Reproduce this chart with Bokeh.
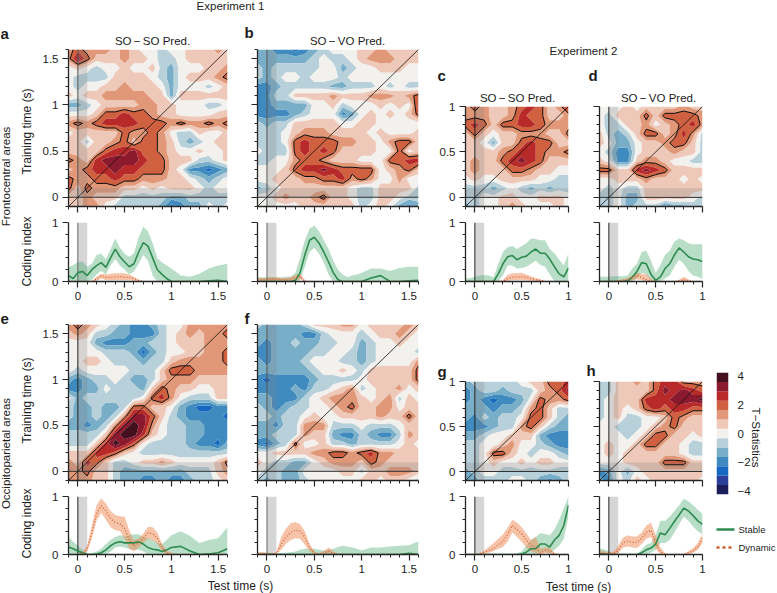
from math import pi
import numpy as np
from bokeh.plotting import figure
from bokeh.layouts import row, column
from bokeh.models import FixedTicker
from bokeh.core.properties import value
from bokeh.embed import file_html
from bokeh.resources import INLINE

# ---------- data: colour-band index of the T statistic (1 index = T_STEP), rows top to bottom ----------
T_STEP = 0.65
GRID_A = [
[2,3,2,2,2,1,2,1,0,0,-1,0,0,1,1,1,2,1],
[2,5,3,1,1,1,2,1,1,0,-1,-1,0,1,1,1,1,1],
[0,1,0,-1,0,0,1,0,0,1,-1,-2,0,0,0,1,1,2],
[0,-1,-1,-1,-1,1,1,1,1,0,-1,-2,0,1,1,1,2,3],
[0,-1,0,0,1,1,2,1,1,1,0,-2,0,0,0,-1,0,1],
[1,0,1,1,2,2,2,2,2,1,1,-2,1,1,1,1,1,1],
[-2,-2,-1,0,1,1,1,1,2,2,1,1,0,0,0,-1,-1,0],
[0,0,0,1,3,3,4,3,3,2,1,1,0,0,0,0,1,1],
[2,3,2,3,4,4,4,4,3,3,3,2,3,2,2,3,2,3],
[0,1,1,1,1,1,3,2,2,3,2,0,-1,-1,1,0,0,1],
[1,1,-1,1,1,2,3,1,3,3,2,1,-1,-2,-1,0,1,1],
[1,1,1,1,3,4,4,5,3,3,2,1,0,0,1,0,0,1],
[3,2,1,4,5,5,5,5,4,3,3,1,1,1,-1,-1,0,1],
[1,2,3,4,4,5,4,4,3,3,3,1,0,-3,-3,-4,-3,-2],
[3,2,2,3,3,4,3,3,2,2,2,1,1,0,-1,-2,-1,0],
[3,1,3,2,2,2,1,1,0,1,0,1,1,1,0,-1,0,0],
[1,1,2,1,1,1,-1,-1,-1,-1,-1,-2,-2,-1,-1,-1,-1,-1],
[1,1,2,2,0,-1,-1,-1,-1,-1,-2,-4,-3,-2,-2,0,-1,0]]
GRID_B = [
[-2,-2,-3,-3,-4,-3,-2,-1,0,0,0,1,1,2,1,1,1,1],
[-2,-2,-2,-2,-2,-2,-1,0,-1,-1,0,1,2,2,2,1,1,1],
[-1,-2,-1,-1,-1,-1,-1,0,0,-2,-1,0,0,1,1,1,0,0],
[-1,-2,-1,0,0,-1,0,0,0,-1,0,0,0,0,0,0,0,0],
[-3,-3,-2,-1,-1,-1,-1,-1,-2,-2,-1,-1,-1,0,-1,0,-1,-1],
[-3,-3,-1,-1,1,1,1,1,2,1,1,1,2,2,2,1,2,3],
[-3,-3,-2,-2,-2,-2,0,0,1,-1,0,0,0,1,0,1,0,4],
[-3,-3,-3,-3,-2,-1,0,0,0,-3,-2,0,1,0,1,0,1,3],
[-1,-2,-1,-1,1,1,1,1,1,0,0,1,1,0,0,0,0,0],
[-1,-1,-1,0,1,2,2,2,1,1,1,1,0,1,0,0,0,1],
[-1,-1,-1,0,3,4,3,3,3,2,2,1,1,0,2,3,3,1],
[0,-1,-1,-1,3,4,3,4,3,1,1,1,1,0,0,3,0,1],
[-1,-1,0,0,2,3,3,2,1,1,1,0,0,0,3,3,4,4],
[0,0,0,1,3,4,4,5,4,3,3,3,3,0,1,2,3,1],
[0,0,1,1,1,2,2,3,3,4,2,3,2,0,0,2,0,0],
[-2,-1,0,1,1,1,1,1,1,1,0,-1,-1,1,1,1,1,-1],
[0,0,1,2,1,1,2,3,1,1,0,-1,-1,1,1,0,-1,-1],
[0,0,0,0,0,1,1,1,1,1,1,-1,0,1,0,-2,-3,-2]]
GRID_E = [
[2,3,2,1,0,-1,-2,-3,-3,-2,-1,0,0,2,2,2,2,2],
[1,2,1,-1,-1,-2,-2,-3,-3,-3,-1,0,1,2,1,2,2,3],
[0,0,0,-2,-3,-3,-3,-2,-2,-1,-1,0,1,1,1,2,2,2],
[0,0,0,0,-1,-1,-1,-2,-4,-2,-1,0,0,1,1,2,2,3],
[0,0,1,1,0,-1,-1,-1,-2,-1,-1,1,2,2,2,2,2,3],
[0,-1,0,0,0,0,0,-1,-1,-1,1,3,3,3,2,2,2,2],
[-2,-3,-2,-1,-1,0,-1,-2,-2,-1,1,2,2,2,1,1,1,1],
[-3,-3,-2,-2,0,-1,-1,-1,-2,1,3,2,1,1,0,0,1,1],
[0,-2,-1,-1,-1,-1,-1,-1,0,3,4,2,0,-1,-1,-1,1,1],
[-1,-2,-2,-1,-2,-2,-1,3,3,1,1,0,-2,-3,-4,-4,-3,-3],
[-1,-2,-2,-1,-2,-1,2,5,5,3,1,-1,-2,-3,-3,-3,-3,-4],
[-2,-2,-3,-2,-1,2,5,6,5,2,0,-1,-1,-2,-2,-3,-3,-3],
[-1,-1,-1,-1,1,5,6,6,4,1,0,-1,-1,-2,-2,-3,-3,-3],
[-1,-1,-1,1,4,6,5,3,0,-1,-1,-1,-1,-2,-3,-3,-4,-2],
[1,1,1,4,4,3,1,0,-1,-1,-1,-1,-1,-1,-1,-1,-1,-1],
[2,1,4,3,1,-1,-1,0,1,1,2,1,0,0,0,0,1,3],
[2,2,3,1,1,-1,-2,-2,-2,-2,-2,-2,-2,-1,-1,-1,1,2],
[2,2,2,1,1,-1,-2,-2,-3,-3,-2,-3,-3,-2,-1,-1,0,1]]
GRID_F = [
[-1,-2,-2,-2,-2,-1,1,1,1,2,2,0,1,1,1,1,2,1],
[-2,-2,-2,-2,-2,-3,-3,-1,0,0,0,-1,0,1,1,2,1,0],
[-2,-3,-2,-2,-1,-2,-2,-1,-1,0,0,-2,-1,0,0,1,0,0],
[-3,-3,-2,-2,-2,-2,-1,-1,0,0,-1,-2,-1,0,0,0,0,-1],
[-2,-3,-2,-2,-2,-1,0,0,0,-1,-1,-2,-1,0,0,0,0,2],
[-2,-2,-2,-2,-2,-2,-1,0,0,1,0,-1,1,1,1,1,1,3],
[-3,-4,-3,-3,-3,-3,-2,-1,-1,-1,-1,0,1,1,1,1,1,3],
[-3,-3,-3,-3,-2,-3,-1,-1,0,1,2,-1,0,1,1,2,0,1],
[-2,-2,-3,-3,-3,-1,0,1,2,2,2,1,0,1,2,-1,1,0],
[-1,-2,-3,-2,-1,-1,0,0,1,2,3,1,1,2,2,0,1,1],
[-1,-1,-2,-1,-1,0,1,0,0,1,1,1,1,2,1,1,3,1],
[-2,-2,-3,-1,-1,2,2,2,-1,-1,-1,0,-1,-1,-1,0,1,1],
[-2,-2,-1,-1,-1,2,1,1,-2,-3,-3,-1,-2,-3,-3,-1,2,1],
[-3,-4,-2,-1,3,0,0,1,-1,-1,-2,-1,-1,-1,-1,0,1,0],
[0,0,1,1,1,1,2,2,3,3,2,3,4,2,2,1,1,1],
[1,0,-1,-1,-2,-2,0,1,2,2,2,1,3,2,1,1,1,1],
[0,-1,-1,-2,-2,0,0,0,0,1,1,-1,1,1,2,2,2,1],
[-1,-2,-1,-2,-2,-1,0,0,0,0,0,1,1,0,1,1,0,-1]]
GRID_C = [
[2,3,2,1,1,2,3,4,3,1,2,4],
[2,2,2,1,1,2,4,3,3,1,1,2],
[3,4,3,1,3,3,4,4,3,2,2,2],
[1,3,1,0,1,1,2,2,2,1,1,3],
[1,1,0,-2,1,1,3,4,3,3,1,1],
[1,1,1,1,2,3,4,4,3,2,2,3],
[1,2,1,1,3,4,5,4,3,1,1,1],
[1,2,1,1,1,3,3,2,1,1,0,0],
[0,1,0,0,1,1,1,1,0,0,-1,-1],
[-1,-1,-1,-2,-1,0,-1,-2,-1,-2,-1,-1],
[-1,-1,0,0,1,1,0,0,1,1,1,0],
[-2,-1,0,0,1,2,1,0,0,0,1,0]]
GRID_D = [
[0,0,0,1,0,1,1,1,1,2,1,1],
[0,-1,1,1,1,3,1,3,3,3,3,2],
[0,-1,-1,1,1,2,0,1,2,3,4,2],
[1,-1,-2,-1,1,3,3,1,2,4,2,-1],
[1,0,-2,-2,0,1,1,2,3,3,1,-1],
[0,-1,-3,-3,0,1,1,1,2,1,1,-1],
[1,0,-3,-3,1,2,2,1,0,0,-1,-1],
[3,3,1,1,4,5,4,3,1,1,1,1],
[0,0,1,1,1,2,1,1,1,0,1,0],
[0,-1,0,-1,-1,1,1,1,1,1,1,1],
[-1,-1,0,-2,-2,1,1,1,1,1,0,-1],
[-1,-1,0,-2,-1,-1,-1,-3,-2,-2,-1,-1]]
GRID_G = [
[-2,-1,-1,-1,-1,-1,0,1,1,3,3,4],
[-3,-2,-1,-1,-2,-1,-1,-1,1,2,3,5],
[-3,-2,-3,-4,-3,-3,-2,0,3,2,2,3],
[-2,-2,-2,-3,-2,-2,-1,2,3,1,-1,-1],
[-2,-3,-1,-2,-1,-1,0,3,3,1,-1,-2],
[-3,-3,-3,-2,-1,-1,2,3,1,-1,-2,-2],
[-2,-2,-1,0,0,1,1,1,-2,-3,-3,-3],
[-1,-1,0,0,1,2,0,0,-1,-2,-3,-3],
[-1,-1,0,3,3,1,0,-1,0,0,-1,-2],
[-1,-1,0,1,0,0,1,0,1,1,0,0],
[-2,-1,0,0,-1,-1,-1,-1,-1,-1,-1,-1],
[-2,-2,-1,-1,-1,0,0,-1,-2,-3,-2,-1]]
GRID_H = [
[-1,-1,1,1,2,1,3,4,4,2,2,2],
[-1,-1,1,1,1,1,3,5,4,5,4,3],
[-1,0,1,1,1,4,4,4,5,5,5,6],
[-1,0,1,0,1,3,4,3,4,4,3,3],
[-1,0,1,-1,-1,0,0,1,3,2,1,1],
[0,0,-1,-1,-1,0,1,2,3,1,1,1],
[0,0,0,-1,0,1,3,3,1,1,0,1],
[0,1,0,0,1,3,3,1,1,0,-1,-1],
[0,1,0,1,1,1,1,1,1,0,-1,-1],
[0,0,0,1,1,1,1,3,3,3,1,1],
[-3,-2,0,-2,0,1,1,1,1,1,1,1],
[-2,-3,0,-1,1,0,1,1,1,1,1,0]]

# ---------- coding index curves ----------
X1 = [-.1,-.05,0,.05,.1,.15,.2,.25,.3,.35,.4,.45,.5,.55,.6,.65,.7,.75,.8,.85,.9,.95,1.0,1.1,1.2,1.3,1.4,1.5,1.6]
X2 = [-.1,-.05,0,.05,.1,.15,.2,.25,.3,.35,.4,.45,.5,.55,.6,.65,.7,.75,.8,.85,.9,.95,1.0]

A_STABLE = [.1,.05,.15,.17,.1,.2,.27,.32,.24,.4,.55,.42,.33,.25,.3,.5,.66,.6,.4,.2,.12,.05,0,0,0,0,.01,.02,0]
A_STABLE_LO = [0,0,0,0,0,.03,.12,.18,.12,.27,.38,.27,.2,.12,.17,.3,.45,.35,.1,0,0,0,0,0,0,0,0,0,0]
A_STABLE_HI = [.24,.28,.33,.34,.25,.3,.45,.47,.38,.55,.73,.57,.47,.42,.48,.75,.93,.85,.65,.4,.32,.27,.22,.1,.08,.13,.22,.27,.3]
A_DYN = [0,0,0,0,0,0,.04,.1,.07,.07,.08,.08,.07,.07,.05,.02,0]
A_DYN_LO = [0,0,0,0,0,0,.01,.05,.02,.02,.02,.02,.02,.02,.01,0,0]
A_DYN_HI = [0,0,0,0,0,.01,.08,.13,.12,.13,.14,.14,.14,.12,.08,.03,0]

B_STABLE = [0,0,0,0,0,0,0,0,.02,.15,.45,.7,.75,.65,.5,.33,.15,.03,0,0,0,0,0,.06,.1,0,0,.01,.02]
B_STABLE_LO = [0,0,0,0,0,0,0,0,0,.02,.25,.5,.57,.47,.32,.12,0]
B_STABLE_HI = [.07,.07,.07,.07,.07,.07,.08,.08,.15,.4,.7,.9,.95,.85,.7,.55,.35,.2,.12,.07,.1,.12,.15,.22,.22,.18,.23,.25,.25]
B_DYN = [.03,.03,.03,.04,.04,.03,.03,.04,.06,.09,0]
B_DYN_LO = [0,0,0,.01,.01,0,0,.01,.02,.04,0]
B_DYN_HI = [.06,.06,.06,.07,.07,.06,.06,.07,.11,.13,.02]

C_STABLE = [0,0,0,0,0,0,0,.13,.3,.42,.44,.37,.41,.43,.5,.55,.48,.48,.38,.25,.13,.08,.23]
C_STABLE_LO = [0,0,0,0,0,0,0,0,.1,.27,.27,.22,.23,.25,.3,.35,.28,.25,.12,0,0,0,0]
C_STABLE_HI = [.05,.06,.08,.1,.11,.1,.07,.3,.5,.58,.6,.55,.6,.65,.73,.72,.7,.7,.55,.48,.37,.27,.48]
C_DYN = [0,0,0,0,0,0,0,0,0,.05,.07,.08,.08,.07,.05,.03,.02,0]
C_DYN_LO = [0,0,0,0,0,0,0,0,0,.01,.02,.02,.02,.02,.01,.01,0,0]
C_DYN_HI = [0,0,0,0,0,0,0,0,.03,.11,.14,.14,.15,.12,.09,.06,.04,0]

D_STABLE = [0,0,0,0,0,0,.01,.07,.17,.32,.3,.12,.02,.08,.22,.3,.45,.57,.5,.42,.38,.37,.34]
D_STABLE_LO = [0,0,0,0,0,0,0,0,.05,.15,.12,0,0,0,.05,.1,.25,.37,.3,.18,.1,.08,.04]
D_STABLE_HI = [.08,.08,.08,.09,.09,.09,.1,.22,.3,.5,.52,.35,.15,.28,.45,.52,.68,.73,.7,.65,.63,.63,.63]
D_DYN = [0,0,0,0,.01,.02,.03,.07,.1,.07,.03,0,0,0,0,0,0,.01,.03,.01,0,0,0]
D_DYN_LO = [0,0,0,0,0,0,0,.02,.04,.02,0,0,0,0,0,0,0,0,.01,0,0,0,0]
D_DYN_HI = [0,0,0,.01,.02,.04,.06,.1,.15,.13,.12,.05,0,0,0,0,0,.03,.08,.04,0,0,0]

E_STABLE = [.13,.1,.06,.03,0,0,.01,.03,.08,.15,.2,.22,.2,.2,.2,.22,.18,.12,.09,.08,.05,.08,.12,.14,.06,0,.01,.03,.1]
E_STABLE_LO = [0,0,0,0,0,0,0,0,0,.05,.12,.14,.12,.1,.08,.08,.05,0]
E_STABLE_HI = [.3,.22,.15,.08,.02,.02,.05,.1,.18,.25,.3,.33,.32,.33,.35,.35,.3,.28,.25,.2,.18,.25,.33,.4,.32,.2,.25,.28,.47]
E_DYN = [0,0,0,.02,.1,.38,.7,.84,.75,.62,.55,.53,.45,.25,.15,.2,.28,.37,.36,.28,.12,.03,.01,0]
E_DYN_LO = [0,0,0,0,.05,.28,.58,.72,.6,.47,.42,.4,.27,.1,.05,.12,.2,.27,.25,.18,.05,0,0,0]
E_DYN_HI = [0,0,0,.03,.15,.5,.85,.97,.88,.75,.68,.66,.65,.42,.25,.28,.36,.48,.47,.38,.18,.07,.03,0]

F_STABLE = [0,0,0,0,0,0,0,0,0,0,0,0,0,0,0,0,0,0,0,0,0,0,0,0,0,0,0,.02,0]
F_STABLE_LO = [0]
F_STABLE_HI = [.03,.03,.03,.03,.02,.02,.03,.04,.05,.08,.1,.1,.1,.08,.07,.08,.1,.13,.15,.14,.12,.1,.07,.12,.12,.14,.15,.16,.23]
F_DYN = [.02,.02,.01,.01,.02,.18,.3,.38,.42,.4,.3,.12,.02,0,.02,.06,.02,0]
F_DYN_LO = [0,0,0,0,0,.08,.18,.25,.28,.27,.17,.05,0,0,0,.01,0,0]
F_DYN_HI = [.04,.04,.03,.02,.04,.3,.45,.54,.56,.52,.4,.18,.05,.02,.06,.12,.06,.01]

G_STABLE = [0,0,0,0,0,0,0,0,0,0,0,0,.01,.04,.1,.1,.18,.18,.13,.25,.33,.5,.85]
G_STABLE_LO = [0,0,0,0,0,0,0,0,0,0,0,0,0,0,0,0,.03,.05,0,.08,.15,.27,.65]
G_STABLE_HI = [0,0,0,0,0,0,0,0,0,0,0,.02,.05,.15,.25,.3,.37,.35,.33,.43,.6,.8,1.0]
G_DYN = [0,0,0,.01,.04,.07,.1,.17,.22,.35,.5,.43,.36,.25,.15,.12,.02,.07,.07,0]
G_DYN_LO = [0,0,0,0,.01,.03,.06,.1,.13,.22,.38,.3,.22,.12,.05,.02,0,.02,.02,0]
G_DYN_HI = [0,0,0,.02,.07,.13,.2,.27,.35,.46,.6,.55,.47,.36,.25,.3,.1,.12,.12,.03]

H_STABLE = [.01,.01,0,0,0,0,0,0,0,.03,.08,.11,.18,.37,.34,.45,.57,.68,.8,.75,.67,.58,.52]
H_STABLE_LO = [0,0,0,0,0,0,0,0,0,0,0,.03,.08,.2,.2,.25,.38,.52,.65,.58,.48,.4,.35]
H_STABLE_HI = [.1,.09,.05,.02,0,0,0,0,.01,.08,.17,.2,.33,.58,.58,.65,.75,.85,.96,.92,.85,.77,.7]
H_DYN = [.03,.02,.01,.01,.07,.2,.23,.21,.21,.28,.38,.42,.2,.05,0,0,0,0,0,.03,.06,.13,.28]
H_DYN_LO = [0,0,0,0,.02,.12,.14,.12,.11,.18,.27,.3,.1,0,0,0,0,0,0,.01,.03,.08,.2]
H_DYN_HI = [.07,.05,.04,.05,.15,.29,.33,.31,.31,.38,.5,.55,.34,.12,.02,0,0,0,.01,.06,.11,.2,.36]

LEVELS = [-20, -3.575, -2.925, -2.275, -1.625, -.975, -.325, .325, .975, 1.625, 2.275, 2.925, 3.575, 20]
COLORS = ["#1a1d5a","#2a3f98","#1768c0","#3f8bc0","#78aec8","#b8d0da","#f3f1ee",
          "#eec8b8","#e09878","#cf6040","#b82a2a","#8b1a2f","#44101f"]
SIG_LEVEL = 1.625
CB_TOP = 4.225
CB_TICKS = [4, 2, 0, -2, -4]
CB_LABELS = {4: "4", 2: "2", 0: "0", -2: "\u22122", -4: "\u22124"}

FONT = "Liberation Sans"
AXC = "#262626"
GREEN = "#2e8b50"
ORANGE = "#cf5f2e"


def style_axes(p, xt, yt, minor_x, minor_y, xlabels, ylabels):
    for ax, ticks, minor, labels in ((p.xaxis[0], xt, minor_x, xlabels), (p.yaxis[0], yt, minor_y, ylabels)):
        ax.ticker = FixedTicker(ticks=ticks, minor_ticks=minor)
        ax.axis_line_color = AXC
        ax.axis_line_width = 1.3
        ax.major_tick_line_color = AXC
        ax.minor_tick_line_color = AXC
        ax.major_tick_line_width = 1.2
        ax.minor_tick_line_width = 1
        ax.major_tick_out = 6
        ax.major_tick_in = 0
        ax.minor_tick_out = 3
        ax.minor_tick_in = 0
        ax.major_label_standoff = 4
        if labels:
            ax.major_label_overrides = {t: (("%g" % t)) for t in ticks}
            ax.major_label_text_font = FONT
            ax.major_label_text_font_size = "11.5px"
            ax.major_label_text_color = "#222222"
        else:
            ax.major_label_overrides = {t: " " for t in ticks}
            ax.major_label_text_font_size = "1px"
            ax.major_label_standoff = 0
    p.grid.visible = False
    p.outline_line_color = None


def make_fig(left, fw, right, top, fh, bottom, xmax, ymax, ymin):
    return figure(width=left + fw + right, height=top + fh + bottom,
                  x_range=(-0.1, xmax), y_range=(ymin, ymax),
                  min_border_left=left, min_border_right=right,
                  min_border_top=top, min_border_bottom=bottom,
                  toolbar_location=None, output_backend="svg")


def heat(grid, left, fw, right, top, fh, bottom, ylabels, bold_zero):
    n = len(grid)
    tmax = -0.1 + 0.1 * (n - 1)
    axis = np.array([-0.1 + 0.1 * i for i in range(n)])
    z = np.array(grid[::-1], dtype=float) * T_STEP
    p = make_fig(left, fw, right, top, fh, bottom, tmax, tmax, -0.1)
    p.contour(axis, axis, z, LEVELS, fill_color=COLORS, line_color=None)
    p.quad(left=[0], right=[0.1], bottom=[-0.1], top=[tmax], fill_color="#808080", fill_alpha=0.25, line_color=None)
    p.quad(left=[-0.1], right=[tmax], bottom=[0], top=[0.1], fill_color="#808080", fill_alpha=0.25, line_color=None)
    p.contour(axis, axis, z, [SIG_LEVEL, 20], fill_color=None, line_color="#0c0c0c", line_width=1)
    c = "#222222" if bold_zero else "#555555"
    p.line([0, 0], [-0.1, tmax], line_color=c, line_width=1)
    p.line([-0.1, tmax], [0, 0], line_color="#333333", line_width=1)
    p.line([-0.1, tmax], [-0.1, tmax], line_color="#111111", line_width=0.8)
    ticks = [0, .5, 1, 1.5] if tmax > 1.2 else [0, .5, 1]
    minor = [round(-0.1 + 0.1 * i, 1) for i in range(n)]
    style_axes(p, ticks, ticks, minor, minor, False, ylabels)
    return p


def pad(vals, n):
    return list(vals) + [0] * (n - len(vals))


def curves(xs, st, st_lo, st_hi, dy, dy_lo, dy_hi, left, fw, right, top, fh, bottom, ylabels, bold_zero):
    n = len(xs)
    st_lo, dy, dy_lo, dy_hi = pad(st_lo, n), pad(dy, n), pad(dy_lo, n), pad(dy_hi, n)
    p = make_fig(left, fw, right, top, fh, bottom, xs[-1], 1, 0)
    p.quad(left=[0], right=[0.1], bottom=[0], top=[1], fill_color="#d6d6d6", line_color=None)
    p.varea(xs, st_lo, st_hi, fill_color="#45a86d", fill_alpha=0.38)
    p.varea(xs, dy_lo, dy_hi, fill_color="#f08a55", fill_alpha=0.5)
    p.line([0, 0], [0, 1], line_color="#222222" if bold_zero else "#666666", line_width=1)
    p.line(xs, st, line_color=GREEN, line_width=1.6)
    p.line(xs, dy, line_color=ORANGE, line_width=1.3, line_dash="1 2")
    ticks = [0, .5, 1, 1.5] if xs[-1] > 1.2 else [0, .5, 1]
    n_m = round((xs[-1] + 0.1) / 0.1)
    minor = [round(-0.1 + 0.1 * i, 1) for i in range(n_m + 1)]
    style_axes(p, ticks, [0, 1], minor, [.2, .4, .6, .8], True, ylabels)
    return p


# ---------- columns of panels ----------
T1, H1, LT, LH1 = 49, 162, 6, 59
col_a = column(
    heat(GRID_A, 68, 162, 10, T1, H1, 5, True, False),
    curves(X1, A_STABLE, A_STABLE_LO, A_STABLE_HI, A_DYN, A_DYN_LO, A_DYN_HI, 68, 162, 10, LT, LH1, 29, True, False),
    heat(GRID_E, 64, 163, 13, 14, 162, 4, True, True),
    curves(X1, E_STABLE, E_STABLE_LO, E_STABLE_HI, E_DYN, E_DYN_LO, E_DYN_HI, 64, 163, 13, LT, 58, 36, True, True))
col_b = column(
    heat(GRID_B, 17, 161, 17, T1, H1, 5, False, False),
    curves(X1, B_STABLE, B_STABLE_LO, B_STABLE_HI, B_DYN, B_DYN_LO, B_DYN_HI, 17, 161, 17, LT, LH1, 29, False, False),
    heat(GRID_F, 17, 161, 17, 14, 162, 4, False, False),
    curves(X1, F_STABLE, F_STABLE_LO, F_STABLE_HI, F_DYN, F_DYN_LO, F_DYN_HI, 17, 161, 17, LT, 58, 36, False, False))
col_c = column(
    heat(GRID_C, 30, 105, 20, 106, 105, 5, True, True),
    curves(X2, C_STABLE, C_STABLE_LO, C_STABLE_HI, C_DYN, C_DYN_LO, C_DYN_HI, 30, 105, 20, LT, LH1, 29, True, True),
    heat(GRID_G, 28, 105, 22, 71, 105, 4, True, True),
    curves(X2, G_STABLE, G_STABLE_LO, G_STABLE_HI, G_DYN, G_DYN_LO, G_DYN_HI, 28, 105, 22, LT, 58, 36, True, True))
col_d = column(
    heat(GRID_D, 9, 105, 6, 106, 105, 5, False, True),
    curves(X2, D_STABLE, D_STABLE_LO, D_STABLE_HI, D_DYN, D_DYN_LO, D_DYN_HI, 9, 105, 6, LT, LH1, 29, False, True),
    heat(GRID_H, 7, 105, 8, 71, 105, 4, False, True),
    curves(X2, H_STABLE, H_STABLE_LO, H_STABLE_HI, H_DYN, H_DYN_LO, H_DYN_HI, 7, 105, 8, LT, 58, 36, False, True))

# colour bar
cb = figure(width=65, height=502, x_range=(0, 1), y_range=(-CB_TOP, CB_TOP),
            min_border_left=6, min_border_right=47, min_border_top=372, min_border_bottom=8,
            x_axis_type=None, y_axis_location="right", toolbar_location=None, output_backend="svg")
cb_edges = [max(v, -CB_TOP) for v in LEVELS[:-1]] + [CB_TOP]
cb.quad(left=0, right=1, bottom=cb_edges[:-1], top=cb_edges[1:], fill_color=COLORS, line_color=None)
cb.grid.visible = False
cb.outline_line_color = None
cb.yaxis.ticker = FixedTicker(ticks=CB_TICKS)
cb.yaxis.major_label_overrides = CB_LABELS
cb.yaxis.axis_line_color = None
cb.yaxis.major_tick_line_color = None
cb.yaxis.minor_tick_line_color = None
cb.yaxis.major_label_standoff = 3
cb.yaxis.major_label_text_font = FONT
cb.yaxis.major_label_text_font_size = "11.5px"
cb.yaxis.major_label_text_color = "#222222"

grid = row(col_a, col_b, col_c, col_d, cb)

# ---------- transparent sheet for the texts and the legend ----------
W, H, GRID_H_PX = 777, 593, 590
sheet = figure(width=W, height=H, x_range=(0, W), y_range=(H, 0), min_border=0,
               x_axis_type=None, y_axis_type=None, toolbar_location=None,
               output_backend="svg", background_fill_alpha=0, border_fill_alpha=0,
               margin=(-GRID_H_PX, 0, 0, 0))
sheet.outline_line_color = None
sheet.grid.visible = False


def txt(x, y, s, size="11.5px", style="normal", align="center", angle=0.0):
    sheet.text([x], [y], text=[s], text_font=value(FONT), text_font_size=value(size),
               text_font_style=style, text_align=align, text_baseline="middle",
               text_color="#1c1c1c", angle=angle)


txt(230, 5, "Experiment 1")
txt(583, 50, "Experiment 2")
for s, x, y in (("a", 0, 33), ("b", 244, 32), ("c", 437, 75), ("d", 588, 75),
                ("e", 0, 318), ("f", 244, 318), ("g", 437, 371), ("h", 586, 370)):
    txt(x, y, s, size="15px", style="bold", align="left")
for s, x, y in (("SO\u2009\u2212\u2009SO Pred.", 152, 40), ("SO\u2009\u2212\u2009VO Pred.", 347, 40),
                ("SO\u2009\u2212\u2009SO Pred.", 517, 97), ("SO\u2009\u2212\u2009VO Pred.", 658, 97)):
    txt(x, y, s)
for s, x, y, sz in (("Training time (s)", 26, 131, "12px"), ("Frontocentral areas", 5, 176, "11.5px"),
                    ("Coding index", 26, 251, "12px"), ("Training time (s)", 26, 400, "12px"),
                    ("Occipitoparietal areas", 5, 453, "11.5px"), ("Coding index", 26, 523, "12px")):
    txt(x, y, s, size=sz, angle=pi / 2)
txt(240, 585, "Test time (s)", size="12px")
txt(578, 586, "Test time (s)", size="12px")
txt(755, 437, "T\u2212Statistics", size="11.5px", angle=-pi / 2)
sheet.line([716, 734], [529, 529], line_color=GREEN, line_width=2.5)
sheet.line([716, 734], [547, 547], line_color=ORANGE, line_width=2.5, line_dash="3 3")
txt(738, 529, "Stable", size="9.5px", align="left")
txt(738, 547, "Dynamic", size="9.5px", align="left")

root = column(grid, sheet)
open("out.html", "w").write(file_html(root, INLINE))
